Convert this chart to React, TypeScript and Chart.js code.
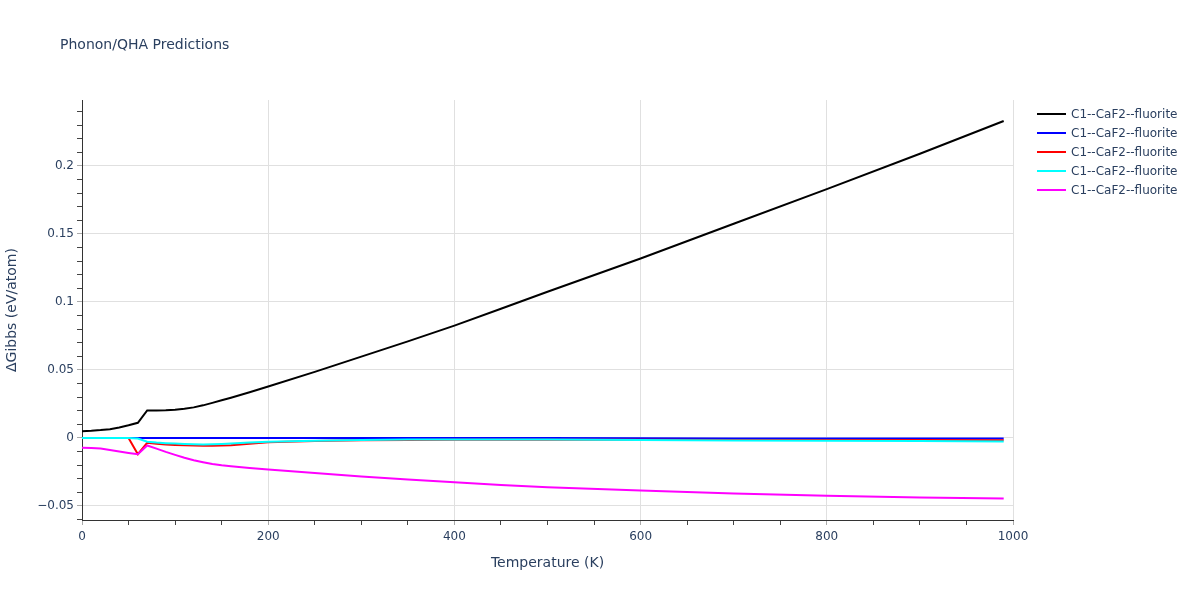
import React, { useEffect, useRef } from "react";
import { Chart, registerables } from "chart.js";

Chart.register(...registerables);

const temperatures = [0, 10, 20, 30, 40, 50, 60, 70, 80, 90, 100, 110, 120, 130, 140, 150, 160, 180, 200, 250, 300, 350, 400, 450, 500, 600, 700, 800, 900, 990];

const seriesBlack = [0.005, 0.0053, 0.0058, 0.0065, 0.0077, 0.0093, 0.0112, 0.0203, 0.0203, 0.0204, 0.0208, 0.0215, 0.0225, 0.024, 0.0258, 0.0277, 0.0296, 0.0336, 0.0378, 0.0486, 0.0598, 0.071, 0.0826, 0.095, 0.1075, 0.132, 0.1575, 0.183, 0.209, 0.2331];
const seriesBlue = [0, 0, 0, 0, 0, 0, 0, 0, 0, 0, 0, 0, 0, 0, 0, 0, 0, 0, 0, 0, 0, 0, 0, -0.0001, -0.0001, -0.0002, -0.0003, -0.0003, -0.0004, -0.0004];
const seriesRed = [0, 0, 0, 0, 0, 0, -0.0119, -0.0035, -0.0042, -0.0047, -0.0051, -0.0054, -0.0056, -0.0057, -0.0057, -0.0056, -0.0053, -0.0043, -0.0032, -0.0022, -0.0017, -0.0014, -0.0013, -0.0013, -0.0013, -0.0013, -0.0014, -0.0015, -0.0015, -0.0016];
const seriesCyan = [0, 0, 0, 0, 0, 0, -0.0004, -0.0028, -0.0034, -0.0038, -0.0041, -0.0044, -0.0046, -0.0047, -0.0046, -0.0044, -0.0041, -0.0034, -0.0028, -0.002, -0.0015, -0.0012, -0.0011, -0.0011, -0.0012, -0.0015, -0.0018, -0.002, -0.0023, -0.0026];
const seriesMagenta = [-0.0072, -0.0074, -0.0078, -0.0089, -0.01, -0.011, -0.0119, -0.0055, -0.0078, -0.0102, -0.0124, -0.0145, -0.0163, -0.0178, -0.0192, -0.0201, -0.0208, -0.022, -0.0232, -0.0258, -0.0284, -0.0305, -0.0325, -0.0345, -0.0363, -0.0386, -0.0408, -0.0425, -0.0437, -0.0445];

const seriesNames = ["C1--CaF2--fluorite", "C1--CaF2--fluorite", "C1--CaF2--fluorite", "C1--CaF2--fluorite", "C1--CaF2--fluorite"];
const seriesColors = ["#000000", "#0000ff", "#ff0000", "#00ffff", "#ff00ff"];

const xMajorTicks = [0, 200, 400, 600, 800, 1000];
const xMinorStep = 50;
const yMajorTicks = [-0.05, 0, 0.05, 0.1, 0.15, 0.2];
const yMinorStep = 0.01;

const titleText = "Phonon/QHA Predictions";
const xTitle = "Temperature (K)";
const yTitle = "ΔGibbs (eV/atom)";

const TEXT = "#2a3f5f";
const FONT = "'DejaVu Sans', Verdana, sans-serif";

function buildTicks(min: number, max: number, step: number): number[] {
  const out: number[] = [];
  const n0 = Math.ceil(min / step - 1e-9);
  const n1 = Math.floor(max / step + 1e-9);
  for (let i = n0; i <= n1; i++) out.push(Math.round(i * step * 1e6) / 1e6);
  return out;
}

function isMajor(v: number, majors: number[]) {
  return majors.some((m) => Math.abs(m - v) < 1e-9);
}

export default function App() {
  const ref = useRef<HTMLCanvasElement | null>(null);

  useEffect(() => {
    if (!ref.current) return;
    const allSeries = [seriesBlack, seriesBlue, seriesRed, seriesCyan, seriesMagenta];
    const yMin = -0.0603;
    const yMax = 0.2485;
    const xTicks = buildTicks(0, 1000, xMinorStep);
    const yTicks = buildTicks(yMin, yMax, yMinorStep);

    const overlay = {
      id: "overlay",
      afterDraw(chart: any) {
        const ctx = chart.ctx;
        const ca = chart.chartArea;
        ctx.save();
        ctx.fillStyle = TEXT;
        ctx.font = `14px ${FONT}`;
        ctx.textAlign = "left";
        ctx.textBaseline = "middle";
        ctx.fillText(titleText, 60, 45);

        ctx.font = `14px ${FONT}`;
        ctx.textAlign = "center";
        ctx.fillText(xTitle, (ca.left + ca.right) / 2, 563);

        ctx.save();
        ctx.translate(12, (ca.top + ca.bottom) / 2);
        ctx.rotate(-Math.PI / 2);
        ctx.fillText(yTitle, 0, 0);
        ctx.restore();

        ctx.font = `12px ${FONT}`;
        ctx.textAlign = "left";
        seriesNames.forEach((name, i) => {
          const y = 114 + i * 19;
          ctx.strokeStyle = seriesColors[i];
          ctx.lineWidth = 2;
          ctx.beginPath();
          ctx.moveTo(1037, y);
          ctx.lineTo(1066, y);
          ctx.stroke();
          ctx.fillStyle = TEXT;
          ctx.fillText(name, 1071, y + 0.5);
        });
        ctx.restore();
      },
    };

    const chart = new Chart(ref.current, {
      type: "line",
      data: {
        datasets: allSeries.map((s, i) => ({
          label: seriesNames[i],
          data: temperatures.map((t, j) => ({ x: t, y: s[j] })),
          borderColor: seriesColors[i],
          backgroundColor: seriesColors[i],
          borderWidth: 2,
          pointRadius: 0,
          tension: 0,
          fill: false,
          order: allSeries.length - i,
        })),
      },
      options: {
        animation: false,
        responsive: false,
        layout: { padding: { left: 0, top: 100, right: 187, bottom: 0 } },
        plugins: {
          legend: { display: false },
          title: { display: false },
          tooltip: { enabled: false },
        },
        scales: {
          x: {
            type: "linear",
            min: 0,
            max: 1000,
            afterBuildTicks: (scale: any) => {
              scale.ticks = xTicks.map((v) => ({ value: v }));
            },
            afterFit: (scale: any) => {
              scale.height = 80;
            },
            ticks: {
              autoSkip: false,
              maxRotation: 0,
              padding: 5,
              color: TEXT,
              font: { family: FONT, size: 12 },
              callback: (v: any) => (isMajor(Number(v), xMajorTicks) ? String(v) : ""),
            },
            grid: {
              color: (c: any) => (c.tick && isMajor(c.tick.value, xMajorTicks) ? "#e0e0e0" : "rgba(0,0,0,0)"),
              tickColor: (c: any) => (c.tick && isMajor(c.tick.value, xMajorTicks) ? "#aaaaaa" : "#444444"),
              tickLength: 5,
              lineWidth: 1,
            },
            border: { display: true, color: "#333333", width: 1 },
          },
          y: {
            type: "linear",
            min: yMin,
            max: yMax,
            afterBuildTicks: (scale: any) => {
              scale.ticks = yTicks.map((v) => ({ value: v }));
            },
            afterFit: (scale: any) => {
              scale.width = 82;
            },
            ticks: {
              autoSkip: false,
              padding: 3,
              color: TEXT,
              font: { family: FONT, size: 12 },
              callback: (v: any) => {
                const n = Number(v);
                if (!isMajor(n, yMajorTicks)) return "";
                const r = Math.round(n * 100) / 100;
                if (r === 0) return "0";
                return r < 0 ? "\u2212" + String(Math.abs(r)) : String(r);
              },
            },
            grid: {
              color: (c: any) => (c.tick && isMajor(c.tick.value, yMajorTicks) ? "#e0e0e0" : "rgba(0,0,0,0)"),
              tickColor: (c: any) => (c.tick && isMajor(c.tick.value, yMajorTicks) ? "#aaaaaa" : "#444444"),
              tickLength: 5,
              lineWidth: 1,
            },
            border: { display: true, color: "#333333", width: 1 },
          },
        },
      },
      plugins: [overlay],
    } as any);

    return () => chart.destroy();
  }, []);

  return (
    <div style={{ position: "fixed", top: 0, left: 0, width: 1200, height: 600, background: "#fff" }}>
      <canvas ref={ref} width={1200} height={600} style={{ display: "block", width: 1200, height: 600 }} />
    </div>
  );
}
